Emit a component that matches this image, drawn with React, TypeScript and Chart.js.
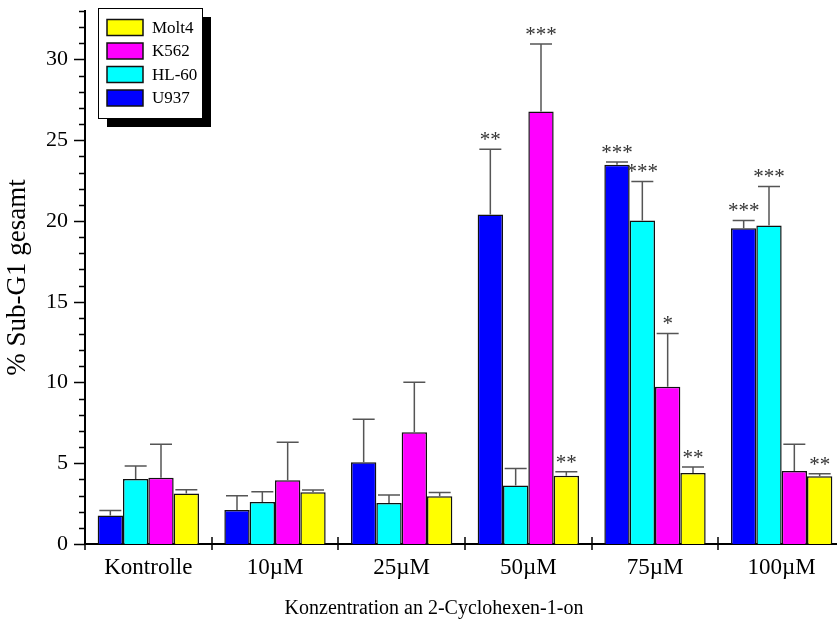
import React, { useEffect, useRef } from 'react';
import { Chart, registerables } from 'chart.js';

Chart.register(...registerables);

const categories = ['Kontrolle', '10µM', '25µM', '50µM', '75µM', '100µM'];
const xTitle = 'Konzentration an 2-Cyclohexen-1-on';
const yTitle = '% Sub-G1 gesamt';

const u937 = [1.77, 2.1, 5.06, 20.4, 23.48, 19.55];
const u937Err = [2.08, 2.99, 7.73, 24.44, 23.65, 20.03];
const u937Sig = ['', '', '', '**', '***', '***'];

const hl60 = [4.02, 2.6, 2.54, 3.62, 20.03, 19.72];
const hl60Err = [4.83, 3.24, 3.04, 4.68, 22.45, 22.14];
const hl60Sig = ['', '', '', '', '***', '***'];

const k562 = [4.1, 3.94, 6.92, 26.77, 9.73, 4.52];
const k562Err = [6.17, 6.3, 10.01, 30.96, 13.04, 6.17];
const k562Sig = ['', '', '', '***', '*', ''];

const molt4 = [3.13, 3.21, 2.95, 4.23, 4.39, 4.19];
const molt4Err = [3.36, 3.34, 3.19, 4.47, 4.76, 4.35];
const molt4Sig = ['', '', '', '**', '**', '**'];

const FONT = '"Liberation Serif", "Times New Roman", Times, serif';

export default function App() {
  const ref = useRef<HTMLCanvasElement>(null);

  useEffect(() => {
    const canvas = ref.current!;
    const series = [
      { label: 'U937', data: u937, err: u937Err, sig: u937Sig, color: '#0000ff' },
      { label: 'HL-60', data: hl60, err: hl60Err, sig: hl60Sig, color: '#00ffff' },
      { label: 'K562', data: k562, err: k562Err, sig: k562Sig, color: '#ff00ff' },
      { label: 'Molt4', data: molt4, err: molt4Err, sig: molt4Sig, color: '#ffff00' },
    ];

    const decor = {
      id: 'decor',
      beforeDraw(chart: any) {
        const { ctx, width, height } = chart;
        ctx.save();
        ctx.fillStyle = '#fff';
        ctx.fillRect(0, 0, width, height);
        ctx.restore();
      },
      afterDatasetsDraw(chart: any) {
        const ctx = chart.ctx;
        const ys = chart.scales.y;
        ctx.save();
        series.forEach((s, i) => {
          const meta = chart.getDatasetMeta(i);
          meta.data.forEach((bar: any, j: number) => {
            const top = ys.getPixelForValue(s.err[j]);
            const x = bar.x;
            ctx.strokeStyle = '#555';
            ctx.lineWidth = 1.5;
            ctx.beginPath();
            ctx.moveTo(x, bar.y);
            ctx.lineTo(x, top);
            ctx.moveTo(x - 11, top);
            ctx.lineTo(x + 11, top);
            ctx.stroke();
            if (s.sig[j]) {
              ctx.fillStyle = '#333';
              ctx.font = `21px ${FONT}`;
              ctx.textAlign = 'center';
              ctx.textBaseline = 'alphabetic';
              ctx.fillText(s.sig[j], x, top - 3);
            }
          });
        });
        ctx.restore();
      },
      afterDraw(chart: any) {
        const ctx = chart.ctx;
        const ys = chart.scales.y;
        const xs = chart.scales.x;
        const area = chart.chartArea;
        ctx.save();
        ctx.strokeStyle = '#000';
        ctx.lineWidth = 1.5;
        ctx.beginPath();
        for (let v = 0; v <= 33; v++) {
          const y = Math.round(ys.getPixelForValue(v)) + 0.5;
          const len = v % 5 === 0 ? 11 : 6;
          ctx.moveTo(area.left - len, y);
          ctx.lineTo(area.left, y);
        }
        ctx.moveTo(area.left, area.bottom);
        ctx.lineTo(area.left, area.bottom + 6);
        for (let i = 0; i < categories.length - 1; i++) {
          const bx = Math.round((xs.getPixelForValue(i) + xs.getPixelForValue(i + 1)) / 2);
          ctx.moveTo(bx, area.bottom - 7);
          ctx.lineTo(bx, area.bottom + 6);
        }
        ctx.stroke();

        // x axis title
        ctx.fillStyle = '#000';
        ctx.font = `20px ${FONT}`;
        ctx.textAlign = 'center';
        ctx.textBaseline = 'middle';
        ctx.fillText(xTitle, 434, 609);

        // legend box with shadow
        const lx = 98, ly = 8, lw = 104, lh = 110;
        ctx.fillStyle = '#000';
        ctx.fillRect(lx + 9, ly + 9, lw, lh);
        ctx.fillStyle = '#fff';
        ctx.fillRect(lx, ly, lw, lh);
        ctx.lineWidth = 1;
        ctx.strokeStyle = '#000';
        ctx.strokeRect(lx + 0.5, ly + 0.5, lw, lh);
        const order = [...series].reverse();
        order.forEach((s, k) => {
          const cy = 27.5 + k * 23.5;
          ctx.fillStyle = s.color;
          ctx.fillRect(107, cy - 8, 36, 16);
          ctx.lineWidth = 1.5;
          ctx.strokeStyle = '#111';
          ctx.strokeRect(107, cy - 8, 36, 16);
          ctx.fillStyle = '#000';
          ctx.font = `17px ${FONT}`;
          ctx.textAlign = 'left';
          ctx.textBaseline = 'middle';
          ctx.fillText(s.label, 152, cy + 1);
        });
        ctx.restore();
      },
    };

    const chart = new Chart(canvas, {
      type: 'bar',
      data: {
        labels: categories,
        datasets: series.map((s) => ({
          label: s.label,
          data: s.data,
          backgroundColor: s.color,
          borderColor: '#111',
          borderWidth: 1.5,
          categoryPercentage: 0.8,
          barPercentage: 1,
        })),
      },
      options: {
        responsive: false,
        animation: false,
        devicePixelRatio: 1,
        layout: { padding: { top: 11, left: 0, right: 0, bottom: 0 } },
        plugins: { legend: { display: false }, tooltip: { enabled: false } },
        scales: {
          x: {
            grid: { display: false, drawTicks: false },
            border: { display: true, color: '#000', width: 2 },
            ticks: {
              color: '#000',
              font: { family: FONT, size: 23 },
              padding: 10,
              maxRotation: 0,
              autoSkip: false,
            },
            title: { display: false },
            afterFit(s: any) {
              s.height = 82;
              s.paddingLeft = 0;
              s.paddingRight = 0;
            },
          },
          y: {
            min: 0,
            max: 33,
            grid: { display: false, drawTicks: false },
            border: { display: true, color: '#000', width: 2 },
            ticks: {
              stepSize: 5,
              includeBounds: false,
              color: '#000',
              font: { family: FONT, size: 22 },
              padding: 17,
              callback: (v: any) => (Number(v) % 5 === 0 ? String(v) : ''),
            },
            title: {
              display: true,
              text: yTitle,
              color: '#000',
              font: { family: FONT, size: 27 },
              padding: { top: 2, bottom: 0 },
            },
            afterFit(s: any) {
              s.width = 85;
              s.paddingTop = 0;
              s.paddingBottom = 0;
            },
          },
        },
      },
      plugins: [decor],
    } as any);

    return () => chart.destroy();
  }, []);

  return (
    <div
      style={{
        position: 'fixed',
        left: 0,
        top: 0,
        width: 837,
        height: 626,
        overflow: 'hidden',
        background: '#fff',
      }}
    >
      <canvas
        ref={ref}
        width={845}
        height={626}
        style={{ display: 'block', width: 845, height: 626 }}
      />
    </div>
  );
}
